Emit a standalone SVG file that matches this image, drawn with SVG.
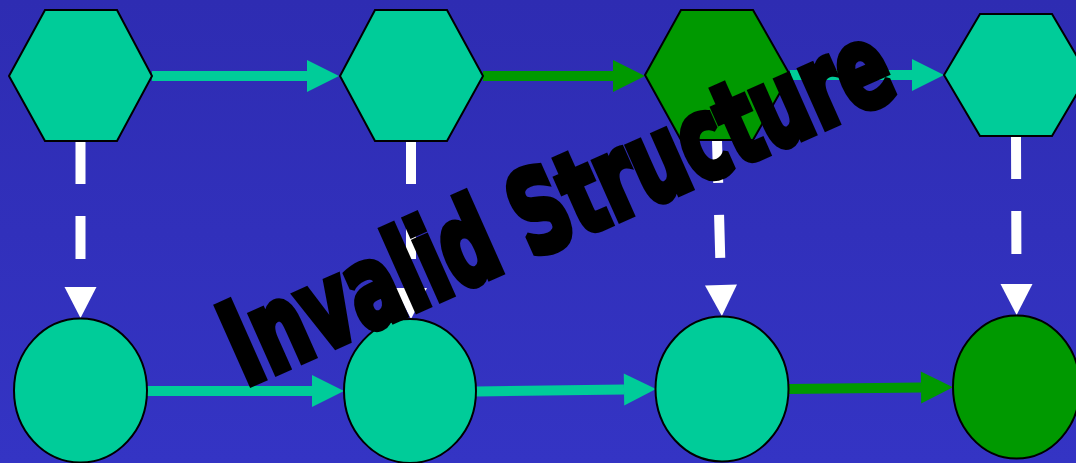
<svg xmlns="http://www.w3.org/2000/svg" width="1076" height="463" viewBox="0 0 1076 463">
  <defs>
    <linearGradient id="bg" x1="0" y1="0" x2="0" y2="1">
      <stop offset="0" stop-color="#2e2cb2"/>
      <stop offset="1" stop-color="#3434c4"/>
    </linearGradient>
    <marker id="headTeal" markerUnits="userSpaceOnUse" markerWidth="32" markerHeight="32" refX="0" refY="16" orient="auto" overflow="visible">
      <path d="M0,0 L32,16 L0,32 z" fill="#00cc99"/>
    </marker>
    <marker id="headGreen" markerUnits="userSpaceOnUse" markerWidth="32" markerHeight="32" refX="0" refY="16" orient="auto" overflow="visible">
      <path d="M0,0 L32,16 L0,32 z" fill="#009900"/>
    </marker>
    <marker id="headWhite" markerUnits="userSpaceOnUse" markerWidth="32" markerHeight="32" refX="0" refY="16" orient="auto" overflow="visible">
      <path d="M0,0 L31,16 L0,32 z" fill="#ffffff"/>
    </marker>
  </defs>
  <style>
    .flow { fill: none; stroke-width: 10; }
    .teal { stroke: #00cc99; marker-end: url(#headTeal); }
    .green { stroke: #009900; marker-end: url(#headGreen); }
    .dep { stroke: #ffffff; stroke-dasharray: 43 32; marker-end: url(#headWhite); }
    .node { stroke: #000000; stroke-width: 2; }
    .nteal { fill: #00cc99; }
    .ngreen { fill: #009900; }
    .stamp { font-family: "DejaVu Sans Condensed", "DejaVu Sans", "Liberation Sans", sans-serif; font-weight: bold; font-size: 96px; fill: #000000; stroke: #000000; stroke-width: 6; stroke-linejoin: miter; stroke-miterlimit: 2; }
  </style>

  <rect x="0" y="0" width="1076" height="463" fill="url(#bg)"/>

  <g id="connectors">
    <line class="flow teal" x1="152" y1="76" x2="307" y2="76"/>
    <line class="flow green" x1="483" y1="76" x2="613" y2="76"/>
    <line class="flow teal" x1="790" y1="75" x2="912" y2="75"/>
    <line class="flow teal" x1="147" y1="391" x2="312" y2="391"/>
    <line class="flow teal" x1="476" y1="391.5" x2="624" y2="389.5"/>
    <line class="flow green" x1="788" y1="389" x2="921" y2="387.5"/>
    <line class="flow dep" x1="80.5" y1="141" x2="80.5" y2="287"/>
    <line class="flow dep" x1="411" y1="141" x2="411" y2="288"/>
    <line class="flow dep" x1="717" y1="140" x2="721" y2="285"/>
    <line class="flow dep" x1="1016" y1="136" x2="1016.5" y2="284"/>
  </g>

  <g id="node-a1"><polygon class="node nteal" points="9,76 45,10 117,10 152,76 117,141 45,141"/></g>
  <g id="node-a2"><polygon class="node nteal" points="340,76 375,10 447,10 483,76 447,141 375,141"/></g>
  <g id="node-a3"><polygon class="node ngreen" points="645,75 681,10 753,10 790,75 753,140 681,140"/></g>
  <g id="node-a4"><polygon class="node nteal" points="944,75 980,14 1052,14 1088,75 1052,136 980,136"/></g>

  <g id="node-b1"><ellipse class="node nteal" cx="80.5" cy="390.5" rx="66.5" ry="72"/></g>
  <g id="node-b2"><ellipse class="node nteal" cx="410" cy="391" rx="66" ry="72"/></g>
  <g id="node-b3"><ellipse class="node nteal" cx="722" cy="389" rx="66.5" ry="72.5"/></g>
  <g id="node-b4"><ellipse class="node ngreen" cx="1016.5" cy="387" rx="63.5" ry="71.5"/></g>

  <text class="stamp" x="3" y="-2" textLength="718" lengthAdjust="spacingAndGlyphs" transform="translate(243,390) rotate(-24) scale(1,1.2)">Invalid Structure</text>
</svg>
